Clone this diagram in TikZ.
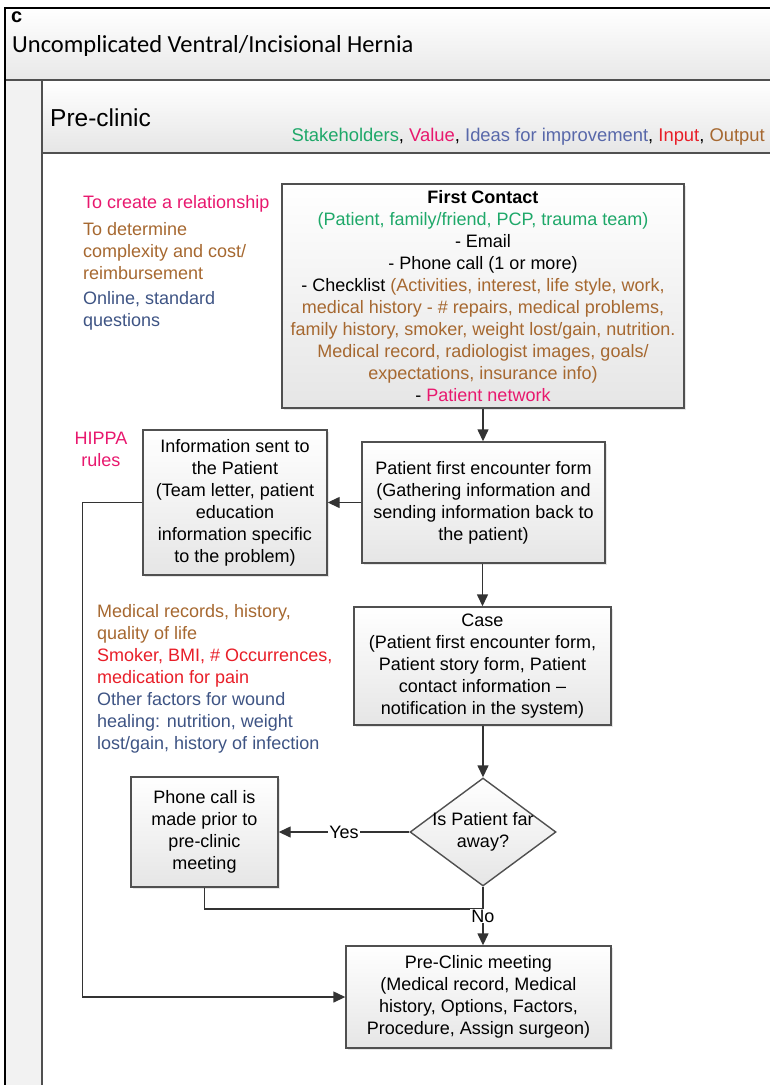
\documentclass[tikz,border=0pt]{standalone}
\usepackage{fontspec}
\setmainfont{Liberation Sans}
\newfontfamily\calfont{Carlito}
\usetikzlibrary{arrows.meta,shapes.geometric,shadows}
\definecolor{stakegreen}{RGB}{30,168,105}
\definecolor{valuepink}{RGB}{232,24,110}
\definecolor{ideablue}{RGB}{88,104,170}
\definecolor{noteblue}{RGB}{62,84,132}
\definecolor{inputred}{RGB}{232,30,40}
\definecolor{outputbrown}{RGB}{166,104,48}
\definecolor{edgegray}{RGB}{80,80,80}
\begin{document}
\begin{tikzpicture}[x=1pt,y=-1pt,
  every node/.style={font=\fontsize{18}{22}\selectfont},
  box/.style={draw=edgegray,line width=1.4pt,top color=white,bottom color=black!10,
    align=center,inner sep=0pt,drop shadow={shadow xshift=2pt,shadow yshift=-2pt,opacity=.2}},
  decision/.style={diamond,draw=edgegray,line width=1.4pt,top color=white,bottom color=black!10,
    inner sep=0pt,minimum width=146pt,minimum height=108pt},
  arr/.style={draw=black!80,line width=1.4pt,-{Triangle[length=12pt,width=11pt]}},
  link/.style={draw=black!80,line width=1.4pt},
  lane/.style={draw=edgegray,line width=1.6pt}]
\useasboundingbox (0,0) rectangle (770,1085);
\shade[top color=white,bottom color=black!9] (6,8) rectangle (770,80);
\shade[top color=white,bottom color=black!10] (42,80) rectangle (770,153);
\fill[black!5] (6,80) rectangle (42,1085);
\draw[lane] (6,80) -- (770,80);
\draw[lane] (42,153) -- (770,153);
\draw[lane] (42,80) -- (42,1085);
\draw[line width=2.5pt] (5,1085) -- (5,8) -- (770,8);

\node[anchor=base west,inner sep=0pt,font=\bfseries\fontsize{20}{20}\selectfont] (tag) at (11,22) {c};
\node[anchor=base west,inner sep=0pt,font=\calfont\fontsize{24.5}{26}\selectfont] (title) at (12,52) {Uncomplicated Ventral/Incisional Hernia};
\node[anchor=base west,inner sep=0pt,font=\fontsize{24.5}{26}\selectfont] (lanename) at (50,126) {Pre-clinic};
\node[anchor=base east,inner sep=0pt,font=\fontsize{18.4}{22}\selectfont] (legend) at (765,141) {\textcolor{stakegreen}{Stakeholders}, \textcolor{valuepink}{Value}, \textcolor{ideablue}{Ideas for improvement}, \textcolor{inputred}{Input}, \textcolor{outputbrown}{Output}};

\node[anchor=north west,align=left,inner sep=0pt] (contactnote) at (83,195) {\textcolor{valuepink}{To create a relationship}\\[5pt]
  \textcolor{outputbrown}{To determine}\\ \textcolor{outputbrown}{complexity and cost/}\\ \textcolor{outputbrown}{reimbursement}\\[3pt]
  \textcolor{noteblue}{Online, standard}\\ \textcolor{noteblue}{questions}};
\node[align=center,inner sep=0pt,text=valuepink] (hippa) at (101,449) {HIPPA\\rules};
\node[anchor=north west,align=left,inner sep=0pt] (casenote) at (97,604) {\textcolor{outputbrown}{Medical records, history,}\\ \textcolor{outputbrown}{quality of life}\\
  \textcolor{inputred}{Smoker, BMI, \# Occurrences,}\\ \textcolor{inputred}{medication for pain}\\
  \textcolor{noteblue}{Other factors for wound}\\ \textcolor{noteblue}{healing: nutrition, weight}\\ \textcolor{noteblue}{lost/gain, history of infection}};

\node[box,minimum width=402pt,minimum height=224pt] (contact) at (483,296) {\textbf{First Contact}\\
  \textcolor{stakegreen}{(Patient, family/friend, PCP, trauma team)}\\
  - Email\\
  - Phone call (1 or more)\\
  - Checklist \textcolor{outputbrown}{(Activities, interest, life style, work,}\\
  \textcolor{outputbrown}{medical history - \# repairs, medical problems,}\\
  \textcolor{outputbrown}{family history, smoker, weight lost/gain, nutrition.}\\
  \textcolor{outputbrown}{Medical record, radiologist images, goals/}\\
  \textcolor{outputbrown}{expectations, insurance info)}\\
  - \textcolor{valuepink}{Patient network}};
\node[box,minimum width=243pt,minimum height=121pt] (firstform) at (483.5,502.5) {Patient first encounter form\\(Gathering information and\\sending information back to\\the patient)};
\node[box,minimum width=184pt,minimum height=145pt] (infosent) at (235,502.5) {Information sent to\\the Patient\\(Team letter, patient\\education\\information specific\\to the problem)};
\node[box,minimum width=257pt,minimum height=118pt] (case) at (482.5,666) {Case\\(Patient first encounter form,\\Patient story form, Patient\\contact information --\\notification in the system)};
\node[decision,label={[align=center]center:Is Patient far\\away?}] (far) at (483,832) {};
\node[box,minimum width=147pt,minimum height=110pt] (phonecall) at (204.5,832) {Phone call is\\made prior to\\pre-clinic\\meeting};
\node[box,minimum width=265pt,minimum height=102pt] (meeting) at (478.5,997) {Pre-Clinic meeting\\(Medical record, Medical\\history, Options, Factors,\\Procedure, Assign surgeon)};

\coordinate (joinpt) at (483,909);
\draw[arr] (contact.south) -- (contact.south |- firstform.north);
\draw[arr] (firstform.west) -- (infosent.east);
\draw[arr] (firstform.south -| case.north) -- (case.north);
\draw[arr] (case.south -| far.north) -- (far.north);
\draw[arr] (far.west) -- node[fill=white,inner sep=1pt] {Yes} (phonecall.east);
\draw[link] (phonecall.south) |- (joinpt);
\draw[arr] (far.south) -- node[fill=white,inner sep=1pt] {No} (far.south |- meeting.north);
\draw[arr] (infosent.west) -- ++(-60,0) |- (meeting.west);
\end{tikzpicture}
\end{document}
